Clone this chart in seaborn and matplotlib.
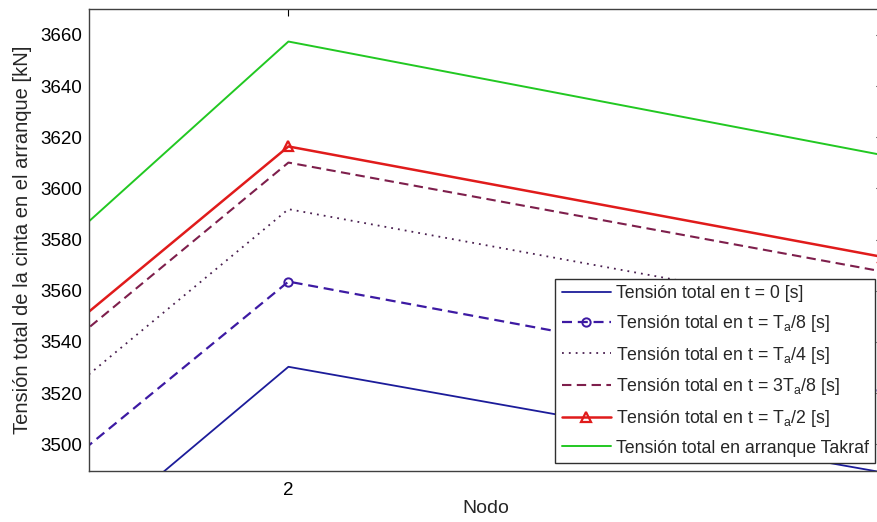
import matplotlib
matplotlib.use("Agg")
import matplotlib.pyplot as plt
import seaborn as sns

# Tension along the belt at each node during start-up [kN]
nodos = [1, 2, 3]
t_0 = [3335.0, 3530.3, 3489.0]
t_ta8 = [3373.0, 3563.6, 3520.5]
t_ta4 = [3399.5, 3591.9, 3549.5]
t_3ta8 = [3418.0, 3610.1, 3567.5]
t_ta2 = [3424.0, 3616.4, 3573.2]
t_takraf = [3448.0, 3657.4, 3613.0]

etiquetas = [
    "Tensión total en t = 0 [s]",
    "Tensión total en t = T$_a$/8 [s]",
    "Tensión total en t = T$_a$/4 [s]",
    "Tensión total en t = 3T$_a$/8 [s]",
    "Tensión total en t = T$_a$/2 [s]",
    "Tensión total en arranque Takraf",
]
yticks = [3500, 3520, 3540, 3560, 3580, 3600, 3620, 3640, 3660]

sns.set_theme(style="white")
plt.rcParams["font.family"] = ["Liberation Sans", "DejaVu Sans"]
plt.rcParams["mathtext.fontset"] = "custom"
plt.rcParams["mathtext.rm"] = "Liberation Sans"
plt.rcParams["mathtext.it"] = "Liberation Sans"

fig = plt.figure(figsize=(8.78, 5.22), dpi=100)
ax = fig.add_axes([0.101, 0.0983, 0.9046, 0.8839])

estilos = [
    dict(y=t_0, color="#1c1c9a", lw=1.3, ls="-"),
    dict(y=t_ta8, color="#3d1aa3", lw=1.6, ls=(0, (4.5, 2.6)),
         marker="o", ms=6, mfc="none", mew=1.4),
    dict(y=t_ta4, color="#4a2050", lw=1.3, ls=(0, (1, 2.8))),
    dict(y=t_3ta8, color="#7e1f4c", lw=1.5, ls=(0, (4.5, 2.6))),
    dict(y=t_ta2, color="#e01b1b", lw=1.8, ls="-",
         marker="^", ms=6.5, mfc="none", mew=1.6),
    dict(y=t_takraf, color="#22c822", lw=1.4, ls="-"),
]

for est, etiqueta in zip(estilos, etiquetas):
    extra = {}
    if "marker" in est:
        extra = dict(marker=est["marker"], markersize=est["ms"],
                     markerfacecolor=est["mfc"], markeredgewidth=est["mew"],
                     markeredgecolor=est["color"])
    sns.lineplot(x=nodos, y=est["y"], ax=ax, color=est["color"],
                 linewidth=est["lw"], linestyle=est["ls"], label=etiqueta,
                 **extra)

xlim = (1.664, 3.0)
ax.set_xticks([n for n in nodos if xlim[0] < n < xlim[1]])
ax.set_yticks(yticks)
ax.set_xlim(*xlim)
ax.set_ylim(3489.7, 3670.0)
ax.tick_params(direction="in", length=5, width=0.8, top=True, right=True,
               labelsize=13.5, colors="black")
ax.tick_params(axis="x", pad=8)
ax.tick_params(axis="y", pad=5)
for lado in ["left", "bottom", "top", "right"]:
    ax.spines[lado].set_color("#404040")
    ax.spines[lado].set_linewidth(1.0)

ax.set_xlabel("Nodo", fontsize=14, labelpad=1)
ax.set_ylabel("Tensión total de la cinta en el arranque [kN]", fontsize=14.5,
              labelpad=6)

leg = ax.legend(loc="lower right", bbox_to_anchor=(0.99, 0.017),
                borderaxespad=0, fontsize=12.8, frameon=True, fancybox=False,
                framealpha=1.0, edgecolor="#303030", handlelength=2.8,
                handletextpad=0.25, labelspacing=0.6, borderpad=0.35)
leg.get_frame().set_linewidth(1.0)

fig.savefig("out.png", dpi=100)
